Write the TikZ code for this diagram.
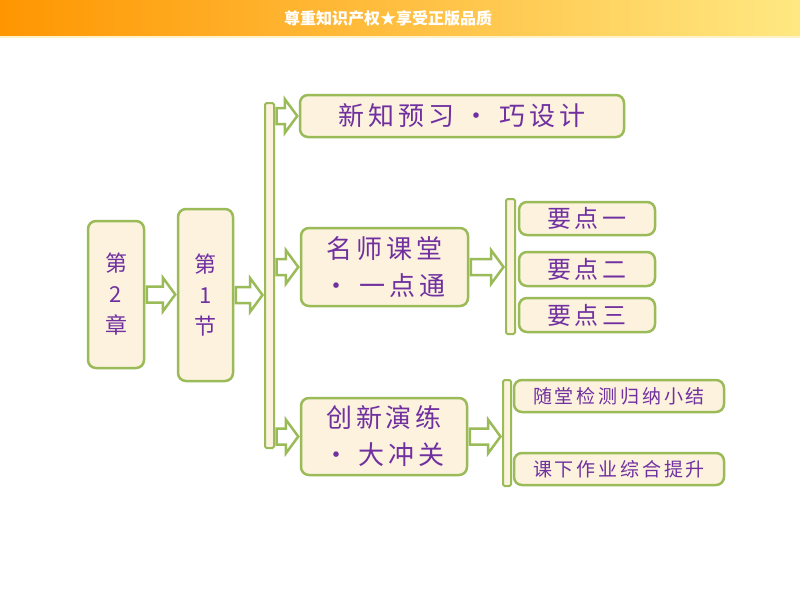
\documentclass[tikz,border=0pt]{standalone}
\usepackage{fontspec}
\newfontfamily\cjk[LetterSpace=15]{Noto Sans CJK SC}
\newfontfamily\cjkban{Noto Sans CJK SC}
\usetikzlibrary{calc}
\definecolor{gborder}{RGB}{155,187,89}
\definecolor{cream}{RGB}{252,242,222}
\definecolor{ptext}{RGB}{112,48,160}
\definecolor{banorange}{RGB}{255,150,0}
\definecolor{banyellow}{RGB}{255,212,60}
\definecolor{banpale}{RGB}{255,232,130}
\tikzset{
  box/.style={draw=gborder, line width=2.5pt, fill=cream, rounded corners=8pt, inner sep=0pt, text=ptext, align=center},
  barbox/.style={draw=gborder, line width=2pt, fill=cream, rounded corners=1.5pt, inner sep=0pt},
  harrow/.style={draw=gborder, line width=2.5pt, fill=white, line join=miter},
  bigtxt/.style={font=\cjk\fontsize{26}{37}\selectfont},
  midtxt/.style={font=\cjk\fontsize{24}{28}\selectfont},
  smalltxt/.style={font=\cjk\fontsize{19}{22}\selectfont},
  vtxt/.style={font=\cjk\fontsize{22}{31}\selectfont},
}
\newcommand\blockarrow[2]{\draw[harrow] let \p1=(#1), \p2=(#2) in
  (\x1+1.5pt,\y1+8pt) -- (\x2-14pt,\y1+8pt) -- (\x2-14pt,\y1+17pt) -- (\x2-1.5pt,\y1)
  -- (\x2-14pt,\y1-17pt) -- (\x2-14pt,\y1-8pt) -- (\x1+1.5pt,\y1-8pt) -- cycle;}
\begin{document}
\begin{tikzpicture}[x=1pt,y=-1pt]
\useasboundingbox (0,0) rectangle (800,600);
\fill[white] (0,0) rectangle (800,600);
% banner
\shade[left color=banorange, middle color=banyellow, right color=banpale] (0,0) rectangle (800,36);
\fill[color={rgb,255:red,255;green,242;blue,200}] (0,36) rectangle (800,38);
\node[font=\cjkban\bfseries\fontsize{16}{16}\selectfont, text=white] (ban) at (388,18) {尊重知识产权★享受正版品质};
% left boxes
\node[box, vtxt, minimum width=56pt, minimum height=147pt] (ch) at (116,294.5) {第\\2\\章};
\node[box, vtxt, minimum width=55pt, minimum height=172pt] (sec) at (205.5,295) {第\\1\\节};
\node[barbox, minimum width=9pt, minimum height=345pt] (bar1) at (269.5,275.5) {};
% middle boxes
\node[box, bigtxt, minimum width=324pt, minimum height=42pt] (new) at (462,116) {新知预习 · 巧设计};
\node[box, bigtxt, minimum width=167pt, minimum height=78pt] (ms) at (384.5,267) {名师课堂\\· 一点通};
\node[box, bigtxt, minimum width=166pt, minimum height=77pt] (cx) at (384,436.5) {创新演练\\· 大冲关};
% right groups
\node[barbox, minimum width=9pt, minimum height=135pt] (bar2) at (510.5,266.5) {};
\node[box, midtxt, minimum width=136pt, minimum height=33pt] (yd1) at (587,218.5) {要点一};
\node[box, midtxt, minimum width=136pt, minimum height=34pt] (yd2) at (587,269) {要点二};
\node[box, midtxt, minimum width=136pt, minimum height=34pt] (yd3) at (587,315) {要点三};
\node[barbox, minimum width=8pt, minimum height=106pt] (bar3) at (507,433) {};
\node[box, smalltxt, minimum width=210pt, minimum height=32pt] (st) at (619,396) {随堂检测归纳小结};
\node[box, smalltxt, minimum width=210pt, minimum height=32pt] (kx) at (619,469) {课下作业综合提升};
% arrows
\blockarrow{ch.east}{sec.west|-ch.east}
\blockarrow{sec.east}{bar1.west|-sec.east}
\blockarrow{bar1.east|-new.west}{new.west}
\blockarrow{bar1.east|-ms.west}{ms.west}
\blockarrow{bar1.east|-cx.west}{cx.west}
\blockarrow{ms.east}{bar2.west|-ms.east}
\blockarrow{cx.east}{bar3.west|-cx.east}
\end{tikzpicture}
\end{document}
